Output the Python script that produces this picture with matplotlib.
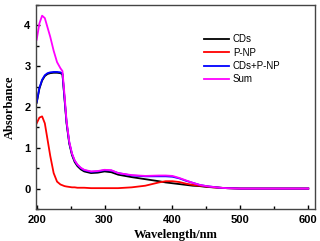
import matplotlib
matplotlib.use("Agg")
import matplotlib.pyplot as plt
from matplotlib.ticker import MultipleLocator

wl = [200, 204, 208, 212, 216, 220, 225, 230, 235, 238, 241, 244, 248, 252, 256, 260,
      265, 270, 280, 290, 300, 310, 320, 340, 360, 380, 390, 400, 410, 420, 430, 440,
      450, 460, 470, 480, 500, 550, 600]

cds = [2.10, 2.45, 2.65, 2.76, 2.81, 2.83, 2.84, 2.84, 2.83, 2.80, 2.20, 1.60, 1.10, 0.82,
       0.65, 0.55, 0.47, 0.42, 0.38, 0.39, 0.42, 0.40, 0.34, 0.28, 0.23, 0.18, 0.15, 0.13,
       0.11, 0.09, 0.07, 0.06, 0.04, 0.03, 0.02, 0.01, 0.0, 0.0, 0.0]
pnp = [1.60, 1.74, 1.77, 1.60, 1.20, 0.80, 0.38, 0.17, 0.10, 0.08, 0.06, 0.05, 0.04, 0.03,
       0.03, 0.02, 0.02, 0.02, 0.01, 0.01, 0.01, 0.01, 0.01, 0.03, 0.07, 0.15, 0.18, 0.18,
       0.16, 0.12, 0.09, 0.07, 0.05, 0.03, 0.02, 0.01, 0.0, 0.0, 0.0]
mix = [2.12, 2.47, 2.67, 2.78, 2.83, 2.85, 2.86, 2.86, 2.85, 2.82, 2.22, 1.63, 1.13, 0.85,
       0.68, 0.58, 0.50, 0.45, 0.41, 0.42, 0.45, 0.44, 0.38, 0.32, 0.30, 0.30, 0.30, 0.29,
       0.25, 0.19, 0.14, 0.09, 0.06, 0.04, 0.02, 0.01, 0.0, 0.0, 0.0]
total = [3.65, 4.05, 4.24, 4.18, 3.95, 3.72, 3.38, 3.10, 2.95, 2.88, 2.30, 1.66, 1.15, 0.86,
         0.69, 0.59, 0.51, 0.46, 0.42, 0.43, 0.46, 0.45, 0.38, 0.33, 0.31, 0.32, 0.32, 0.31,
         0.26, 0.20, 0.14, 0.09, 0.06, 0.04, 0.02, 0.01, 0.0, 0.0, 0.0]

fig = plt.figure(figsize=(3.2, 2.41), dpi=100)
ax = fig.add_axes([0.1125, 0.133, 0.872, 0.846])

ax.plot(wl, cds, color='black', lw=1.3, label='CDs')
ax.plot(wl, pnp, color='red', lw=1.3, label='P-NP')
ax.plot(wl, mix, color='blue', lw=1.3, label='CDs+P-NP')
ax.plot(wl, total, color='magenta', lw=1.3, label='Sum')

ax.set_xlim(199, 610)
ax.set_ylim(-0.5, 4.5)
ax.xaxis.set_major_locator(MultipleLocator(100))
ax.xaxis.set_minor_locator(MultipleLocator(50))
ax.yaxis.set_major_locator(MultipleLocator(1))
ax.yaxis.set_minor_locator(MultipleLocator(0.5))
ax.tick_params(which='both', direction='in', top=False, right=False)
ax.tick_params(which='major', length=3, width=1, pad=4)
ax.tick_params(which='minor', length=2, width=1)
for s in ax.spines.values():
    s.set_color('#444444')
    s.set_linewidth(1)

for lab in ax.get_xticklabels() + ax.get_yticklabels():
    lab.set_family('Liberation Sans')
    lab.set_fontweight('bold')
    lab.set_fontsize(8)

ax.set_xlabel('Wavelength/nm', family='Liberation Serif', fontweight='bold', fontsize=9, labelpad=3)
ax.set_ylabel('Absorbance', family='Liberation Serif', fontweight='bold', fontsize=9, labelpad=6)

ax.legend(loc='upper left', bbox_to_anchor=(0.57, 0.9), frameon=False,
          prop={'family': 'Liberation Sans', 'size': 7},
          handlelength=2.6, handletextpad=0.4, labelspacing=0.35)

fig.savefig('out.png', dpi=100)
